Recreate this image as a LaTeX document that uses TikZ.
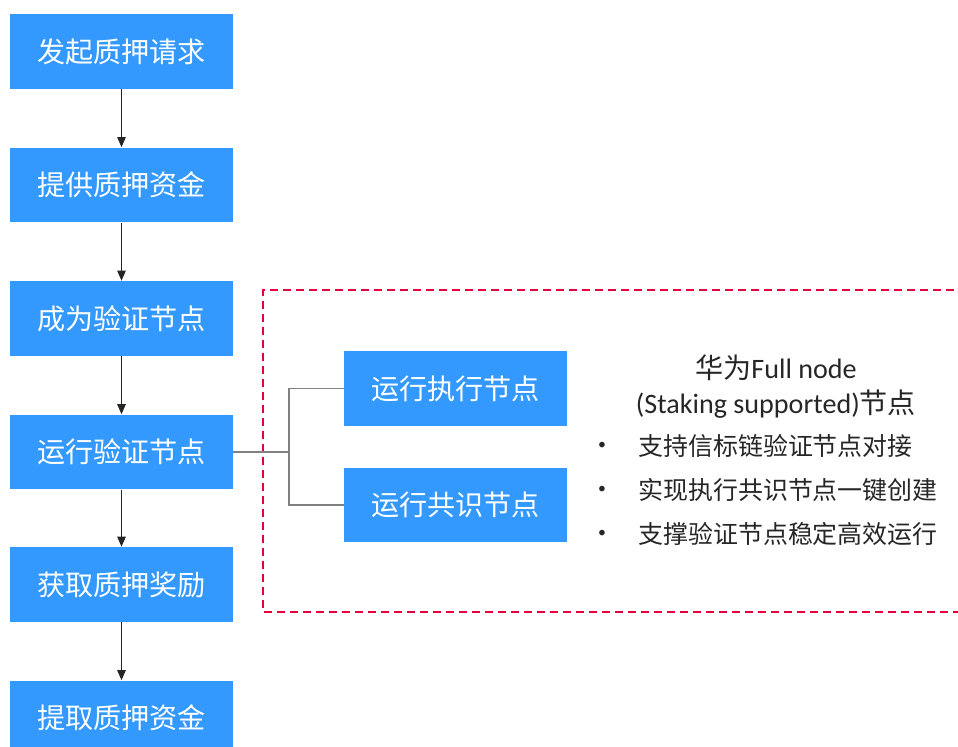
\documentclass[tikz,border=0pt]{standalone}
\usepackage{fontspec}
\setmainfont{Carlito}
\newfontfamily\cjk{Noto Sans CJK SC}
\usepackage{xcolor}
\usetikzlibrary{arrows.meta}
\definecolor{flowblue}{HTML}{3399FF}
\definecolor{dashred}{HTML}{E6003C}
\definecolor{textgray}{HTML}{262626}

\begin{document}
\begin{tikzpicture}[x=0.02cm, y=-0.02cm,
  flowbox/.style={fill=flowblue, text=white, inner sep=0pt,
    minimum width=4.46cm, minimum height=1.5cm,
    font=\cjk\fontsize{16}{18}\selectfont},
  flowarrow/.style={draw=black!85, line width=0.6pt,
    -{Triangle[length=0.2cm, width=0.17cm]}},
  branch/.style={draw=black!50, line width=0.6pt},
  infotext/.style={text=textgray, inner sep=0pt,
    font=\cjk\fontsize{14.2}{17}\selectfont}]
  \useasboundingbox (0,0) rectangle (958,747);
  \clip (0,0) rectangle (958,747);
  % main flow
  \node[flowbox] (request) at (121.5,51.5) {发起质押请求};
  \node[flowbox] (deposit) at (121.5,185) {提供质押资金};
  \node[flowbox] (validator) at (121.5,318.5) {成为验证节点};
  \node[flowbox] (running) at (121.5,452) {运行验证节点};
  \node[flowbox] (reward) at (121.5,584.5) {获取质押奖励};
  \node[flowbox] (withdraw) at (121.5,718) {提取质押资金};
  \draw[flowarrow] (request) -- (deposit);
  \draw[flowarrow] (deposit) -- (validator);
  \draw[flowarrow] (validator) -- (running);
  \draw[flowarrow] (running) -- (reward);
  \draw[flowarrow] (reward) -- (withdraw);
  % full node frame
  \draw[dashred, line width=0.9pt, dash pattern=on 0.16cm off 0.1cm]
    (980,290) -- (263,290) -- (263,612) -- (980,612);
  \node[flowbox] (exec) at (455.5,388.5) {运行执行节点};
  \node[flowbox] (consensus) at (455.5,505) {运行共识节点};
  \coordinate (fork) at (289,452);
  \draw[branch] (running.east) -- (fork);
  \draw[branch] (fork) |- (exec.west);
  \draw[branch] (fork) |- (consensus.west);
  % description
  \node[infotext, align=center, font=\cjk\fontsize{16}{20}\selectfont]
    (title) at (776,387)
    {华为\rmfamily Full node\\ \rmfamily(Staking supported)\cjk 节点};
  \node[infotext, font=\rmfamily\small] (dot1) at (602,446) {\textbullet};
  \node[infotext, font=\rmfamily\small] (dot2) at (602,490) {\textbullet};
  \node[infotext, font=\rmfamily\small] (dot3) at (602,534) {\textbullet};
  \node[infotext, anchor=west] (item1) at (638,446) {支持信标链验证节点对接};
  \node[infotext, anchor=west] (item2) at (638,490) {实现执行共识节点一键创建};
  \node[infotext, anchor=west] (item3) at (638,534) {支撑验证节点稳定高效运行};
\end{tikzpicture}
\end{document}
